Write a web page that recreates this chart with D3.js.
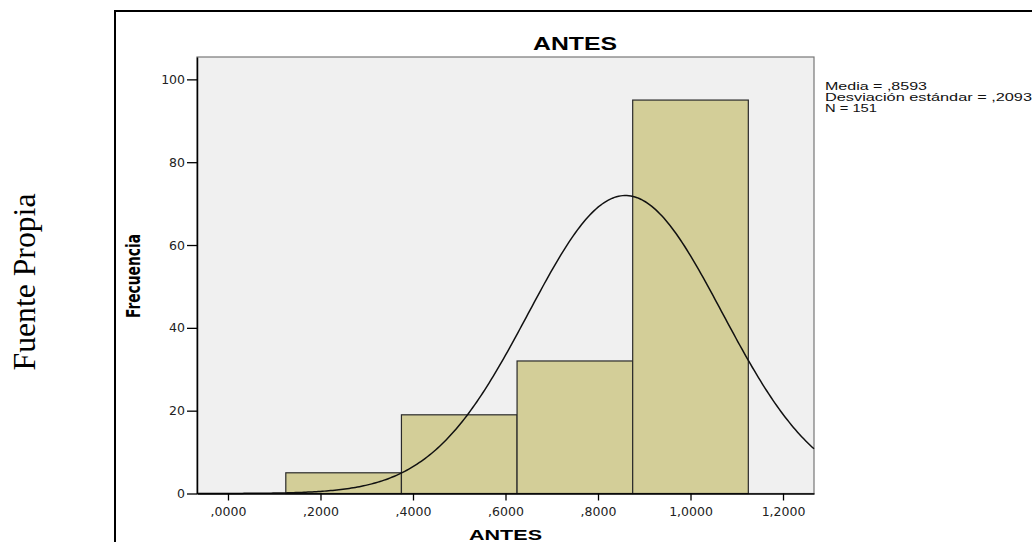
<!DOCTYPE html>
<html>
<head>
<meta charset="utf-8">
<script src="https://cdn.jsdelivr.net/npm/d3@7"></script>
<style>
  html, body { margin: 0; padding: 0; background: #fff; }
  svg { display: block; }
</style>
</head>
<body>
<svg id="chart" width="1032" height="542"></svg>
<script>
// ---------- data ----------
const binStarts   = [0.125, 0.375, 0.625, 0.875];
const binEnds     = [0.375, 0.625, 0.875, 1.125];
const frequencies = [5, 19, 32, 95];
const xTickValues = [0, 0.2, 0.4, 0.6, 0.8, 1.0, 1.2];
const xTickLabels = [",0000", ",2000", ",4000", ",6000", ",8000", "1,0000", "1,2000"];
const yTickValues = [0, 20, 40, 60, 80, 100];
const statValues  = [0.8593, 0.2093, 151];   // media, desviación estándar, N
const statLabels  = ["Media = ,8593", "Desviación estándar = ,2093", "N = 151"];
const titleText   = "ANTES";
const xAxisTitle  = "ANTES";
const yAxisTitle  = "Frecuencia";
const sideNote    = "Fuente Propia";

// ---------- layout ----------
const svg = d3.select("#chart");
const plot = { left: 197, right: 814, top: 57, bottom: 493.5 };

const x = d3.scaleLinear().domain([-0.0670, 1.2670]).range([plot.left, plot.right]);
const y = d3.scaleLinear().domain([0, 105.4]).range([plot.bottom, plot.top]);

// outer frame (only top and left visible)
svg.append("line").attr("x1", 115).attr("y1", 11).attr("x2", 1032).attr("y2", 11)
  .attr("stroke", "#000").attr("stroke-width", 2);
svg.append("line").attr("x1", 115).attr("y1", 10).attr("x2", 115).attr("y2", 542)
  .attr("stroke", "#000").attr("stroke-width", 2);

// side note
svg.append("text")
  .attr("transform", "translate(35,282) rotate(-90)")
  .attr("text-anchor", "middle")
  .attr("font-family", "Liberation Serif, Times New Roman, serif")
  .attr("font-size", 31)
  .attr("textLength", 177).attr("lengthAdjust", "spacingAndGlyphs")
  .attr("fill", "#000")
  .text(sideNote);

// plot background
svg.append("rect")
  .attr("x", plot.left).attr("y", plot.top)
  .attr("width", plot.right - plot.left).attr("height", plot.bottom - plot.top)
  .attr("fill", "#f0f0f0")
  .attr("stroke", "#777").attr("stroke-width", 1.2);

// bars
svg.append("g").selectAll("rect")
  .data(frequencies)
  .join("rect")
  .attr("x", (d, i) => x(binStarts[i]))
  .attr("y", d => y(d))
  .attr("width", (d, i) => x(binEnds[i]) - x(binStarts[i]))
  .attr("height", d => y(0) - y(d))
  .attr("fill", "#d3ce98")
  .attr("stroke", "#2a2a2a")
  .attr("stroke-width", 1.2);

// normal curve from the stated mean / sd / N
const [mu, sigma, n] = statValues;
const binWidth = binEnds[0] - binStarts[0];
const pts = d3.range(0, 301).map(k => {
  const v = x.domain()[0] + (x.domain()[1] - x.domain()[0]) * k / 300;
  const z = (v - mu) / sigma;
  return [v, n * binWidth * Math.exp(-0.5 * z * z) / (sigma * Math.sqrt(2 * Math.PI))];
});
svg.append("path")
  .datum(pts)
  .attr("fill", "none")
  .attr("stroke", "#111")
  .attr("stroke-width", 1.5)
  .attr("d", d3.line().x(d => x(d[0])).y(d => y(d[1])));

// axes
const xAxis = d3.axisBottom(x)
  .tickValues(xTickValues)
  .tickFormat((d, i) => xTickLabels[i])
  .tickSize(7).tickPadding(4).tickSizeOuter(0);
const gx = svg.append("g").attr("transform", `translate(0,${plot.bottom})`).call(xAxis);
gx.select(".domain").attr("stroke", "#000").attr("stroke-width", 1.5);

const yAxis = d3.axisLeft(y)
  .tickValues(yTickValues)
  .tickSize(10).tickPadding(2).tickSizeOuter(0);
const gy = svg.append("g").attr("transform", `translate(${plot.left},0)`).call(yAxis);
gy.select(".domain").attr("stroke", "#000").attr("stroke-width", 1.5);

[gx, gy].forEach(g => {
  g.selectAll(".tick line").attr("stroke", "#000").attr("stroke-width", 1.3);
  g.selectAll(".tick text")
    .attr("font-family", "DejaVu Sans, sans-serif")
    .attr("font-size", 12.5)
    .attr("fill", "#222");
});
gx.selectAll(".tick text").attr("dy", "0.95em");

// title
svg.append("text")
  .attr("x", 575).attr("y", 50)
  .attr("text-anchor", "middle")
  .attr("font-family", "Liberation Sans, Arial, sans-serif")
  .attr("font-weight", "bold").attr("font-size", 18)
  .attr("textLength", 84).attr("lengthAdjust", "spacingAndGlyphs")
  .text(titleText);

// x axis title
svg.append("text")
  .attr("x", 505.5).attr("y", 540)
  .attr("text-anchor", "middle")
  .attr("font-family", "Liberation Sans, Arial, sans-serif")
  .attr("font-weight", "bold").attr("font-size", 15)
  .attr("textLength", 73).attr("lengthAdjust", "spacingAndGlyphs")
  .text(xAxisTitle);

// y axis title
svg.append("text")
  .attr("transform", "translate(140,276) rotate(-90)")
  .attr("text-anchor", "middle")
  .attr("font-family", "Liberation Sans Narrow, Arial Narrow, DejaVu Sans Condensed, sans-serif")
  .attr("font-weight", "bold").attr("font-size", 19)
  .attr("textLength", 84).attr("lengthAdjust", "spacingAndGlyphs")
  .text(yAxisTitle);

// stats legend
const statWidths = [102, 207, 52];
svg.append("g").selectAll("text")
  .data(statLabels)
  .join("text")
  .attr("x", 825)
  .attr("y", (d, i) => 90 + i * 11)
  .attr("font-family", "Liberation Sans, Arial, sans-serif")
  .attr("font-size", 11)
  .attr("fill", "#111")
  .attr("textLength", (d, i) => statWidths[i]).attr("lengthAdjust", "spacingAndGlyphs")
  .text(d => d);
</script>
</body>
</html>
